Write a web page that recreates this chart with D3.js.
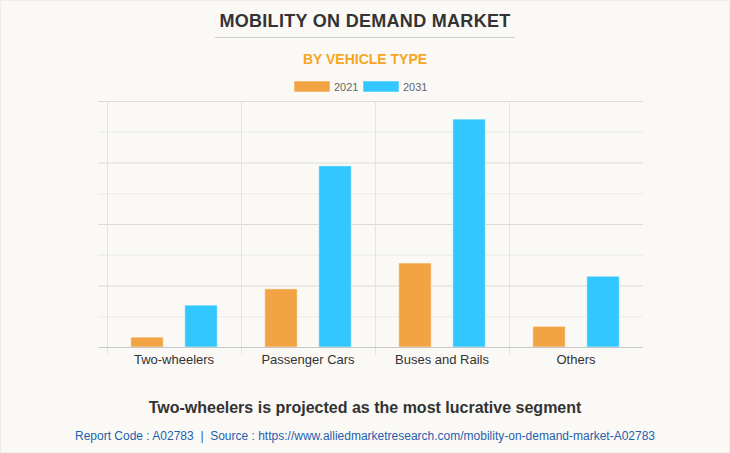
<!DOCTYPE html>
<html><head><meta charset="utf-8">
<script src="https://cdn.jsdelivr.net/npm/d3@7"></script>
<style>
html,body{margin:0;padding:0;background:#faf9f5;}
svg{display:block;font-family:Arial,"Liberation Sans",sans-serif;}
</style></head>
<body>
<svg id="c" width="730" height="453"></svg>
<script>
const categories = ["Two-wheelers","Passenger Cars","Buses and Rails","Others"];
const seriesNames = ["2021","2031"];
const values2021 = [0.32, 1.89, 2.73, 0.67];
const values2031 = [1.36, 5.89, 7.41, 2.30];
const yTicks = [0,1,2,3,4,5,6,7,8];
const colors = ["#f2a444","#33c7ff"];

const svg = d3.select("#c");
const W = 730, H = 453;
svg.append("rect").attr("width",W).attr("height",H).attr("fill","#faf9f5").attr("stroke","#e4e4e4");

const m = {left:107, right:643, top:101, bottom:347};
const x = d3.scaleBand().domain(categories).range([m.left,m.right]).paddingInner(0).paddingOuter(0);
const xs = d3.scaleBand().domain(seriesNames).range([0,x.bandwidth()]).paddingInner(0.4).paddingOuter(0.44);
const y = d3.scaleLinear().domain([0,8]).range([m.bottom,m.top]);

// titles
svg.append("text").attr("x",365).attr("y",27).attr("text-anchor","middle")
  .attr("font-size",18).attr("font-weight","bold").attr("fill","#333").attr("letter-spacing","0.3")
  .text("MOBILITY ON DEMAND MARKET");
svg.append("line").attr("x1",215).attr("x2",515).attr("y1",37.5).attr("y2",37.5).attr("stroke","#cfcfcf");
svg.append("text").attr("x",365).attr("y",64).attr("text-anchor","middle")
  .attr("font-size",14).attr("font-weight","bold").attr("fill","#f6a623")
  .text("BY VEHICLE TYPE");

// legend
const lg = svg.append("g");
const legendX = [294, 363];
seriesNames.forEach((s,i)=>{
  lg.append("rect").attr("x",legendX[i]).attr("y",81).attr("width",36).attr("height",11)
    .attr("fill",colors[i]).attr("stroke","rgba(255,255,255,0.5)");
  lg.append("text").attr("x",legendX[i]+40).attr("y",90.5).attr("font-size",11).attr("fill","#666").text(s);
});

// horizontal grid
const grid = svg.append("g");
yTicks.forEach((t,i)=>{
  grid.append("line").attr("x1",98).attr("x2",m.right)
    .attr("y1",y(t)+0.5).attr("y2",y(t)+0.5)
    .attr("stroke", t===0 ? "#c8c8c8" : (i%2===0 ? "#dedbd6" : "#ecebe6")).attr("stroke-width",1);
});
// vertical grid
const vx = categories.map(c=>x(c));
vx.forEach(v=>{
  grid.append("line").attr("x1",v+0.5).attr("x2",v+0.5).attr("y1",m.top).attr("y2",355)
    .attr("stroke","#e6e4df").attr("stroke-width",1);
});

// bars
const data = categories.map((c,i)=>({c, v:[values2021[i], values2031[i]]}));
const gBars = svg.append("g");
data.forEach(d=>{
  seriesNames.forEach((s,j)=>{
    gBars.append("rect")
      .attr("x",x(d.c)+xs(s)).attr("width",xs.bandwidth())
      .attr("y",y(d.v[j])).attr("height",y(0)-y(d.v[j]))
      .attr("fill",colors[j]).attr("stroke","rgba(255,255,255,0.45)").attr("stroke-width",1);
  });
});
svg.append("line").attr("x1",98).attr("x2",m.right).attr("y1",y(0)+0.5).attr("y2",y(0)+0.5).attr("stroke","#c8c8c8");

// x labels
const xAxis = d3.axisBottom(x).tickSize(0).tickPadding(8);
const ax = svg.append("g").attr("transform",`translate(0,${m.bottom})`).call(xAxis);
ax.select(".domain").remove();
ax.selectAll("text").attr("font-size",13).attr("fill","#333").attr("font-family","Arial,'Liberation Sans',sans-serif");

// footer
svg.append("text").attr("x",365).attr("y",413).attr("text-anchor","middle")
  .attr("font-size",16).attr("font-weight","bold").attr("fill","#333")
  .text("Two-wheelers is projected as the most lucrative segment");
svg.append("text").attr("x",365).attr("y",440).attr("text-anchor","middle")
  .attr("font-size",12).attr("fill","#1f5fae").style("white-space","pre")
  .text("Report Code : A02783  |  Source : https://www.alliedmarketresearch.com/mobility-on-demand-market-A02783");
</script>
</body></html>
